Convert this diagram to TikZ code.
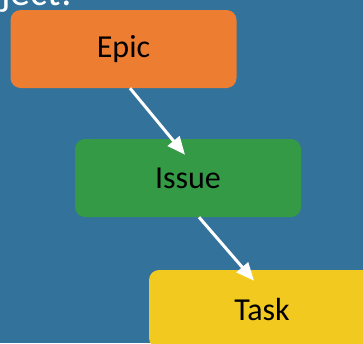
\documentclass[tikz,border=0pt]{standalone}
\usepackage{fontspec}
\setmainfont{Carlito}
\usetikzlibrary{arrows.meta}
\definecolor{slidebg}{RGB}{51,114,155}
\definecolor{epicorange}{RGB}{237,125,49}
\definecolor{issuegreen}{RGB}{52,154,70}
\definecolor{taskyellow}{RGB}{242,201,30}
\tikzstyle{line} = [draw, white, line width=3pt, -{Triangle[length=18pt,width=15pt]}]
\tikzstyle{block} = [rectangle, rounded corners=10pt, minimum width=226pt, minimum height=78pt, text=black, font=\fontsize{32}{38}\selectfont]

\begin{document}
\begin{tikzpicture}[x=1pt, y=-1pt]
	\useasboundingbox (0,0) rectangle (363,343);
	\fill[slidebg] (0,0) rectangle (363,343);
	\clip (0,0) rectangle (363,343);
	\node [white, anchor=base east, inner sep=0pt, font=\fontsize{40}{48}\selectfont] (title) at (72,5) {Project:};
	\node [block, fill=epicorange] (epic) at (123.5,49) {Epic};
	\node [block, fill=issuegreen] (issue) at (188,178) {Issue};
	\node [block, fill=taskyellow] (task) at (262,309) {Task};
	\path [line] ([xshift=6.5pt]epic.south) -- ([xshift=-3pt,yshift=-16pt]issue.north);
	\path [line] ([xshift=11pt]issue.south) -- ([xshift=-8pt,yshift=-11pt]task.north);
\end{tikzpicture}
\end{document}
